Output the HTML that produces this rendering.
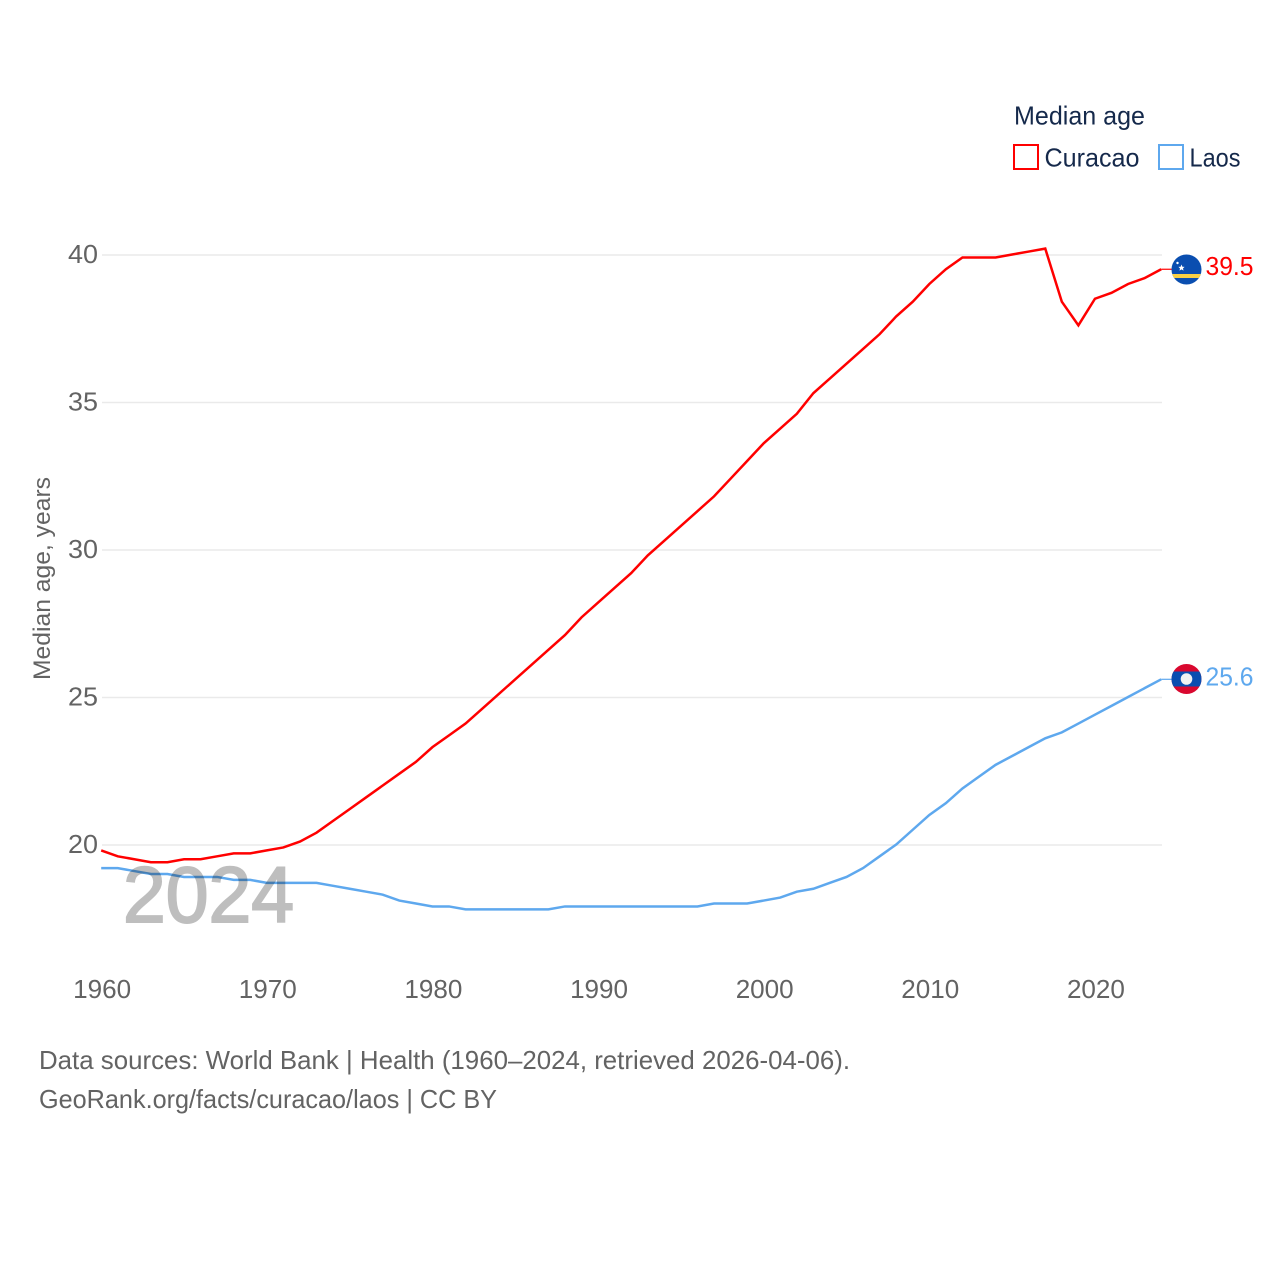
<!DOCTYPE html>
<html lang="en">
<head>
<meta charset="utf-8">
<title>Median age: Curacao and Laos</title>
<style>
html,body{margin:0;padding:0;background:#fff;}
svg{display:block;font-family:"Liberation Sans",sans-serif;}
</style>
</head>
<body>
<svg id="chart" width="1280" height="1280" viewBox="0 0 1280 1280" xmlns="http://www.w3.org/2000/svg">
  <rect x="0" y="0" width="1280" height="1280" fill="#fff"/>
  <g id="grid"></g>
  <g id="yticks"></g>
  <g id="xticks"></g>
  <text transform="translate(50,680) rotate(-90)" font-size="24" fill="#636363" textLength="203" lengthAdjust="spacingAndGlyphs">Median age, years</text>
  <g id="series"></g>
  <text id="year" x="123" y="922" font-size="79" font-weight="normal" fill="#000" stroke="#000" stroke-width="2" opacity="0.25" textLength="171" lengthAdjust="spacingAndGlyphs">2024</text>

  <g>
    <clipPath id="clip-cw"><circle cx="1186.5" cy="269.5" r="15"/></clipPath>
    <g clip-path="url(#clip-cw)">
      <rect x="1171" y="254" width="31" height="31" fill="#0a4eb0"/>
      <rect x="1171" y="274" width="31" height="4" fill="#f9d045"/>
      <polygon points="1181.5,264.5 1182.4,266.7 1184.6,266.9 1183,268.4 1183.5,270.6 1181.5,269.4 1179.5,270.6 1180,268.4 1178.4,266.9 1180.6,266.7" fill="#fff"/>
      <circle cx="1177.5" cy="263" r="1.2" fill="#fff"/>
    </g>
  </g>
  <g>
    <clipPath id="clip-la"><circle cx="1186.5" cy="679" r="15"/></clipPath>
    <g clip-path="url(#clip-la)">
      <rect x="1171" y="664" width="31" height="31" fill="#d9082f"/>
      <rect x="1171" y="671.5" width="31" height="15" fill="#0a4eb0"/>
      <circle cx="1186.5" cy="679" r="5.8" fill="#f2f2f2"/>
    </g>
  </g>
  <text id="val-cw" x="1205.5" y="275" font-size="26" fill="#ff0000" textLength="48" lengthAdjust="spacingAndGlyphs"></text>
  <text id="val-la" x="1205.5" y="685.5" font-size="26" fill="#5ea8ee" textLength="48" lengthAdjust="spacingAndGlyphs"></text>

  <g>
    <text x="1014" y="124.5" font-size="26" fill="#15294b" textLength="131" lengthAdjust="spacingAndGlyphs">Median age</text>
    <g>
      <rect x="1014" y="145" width="24" height="24" fill="none" stroke="#ff0000" stroke-width="2"/>
      <text x="1044.5" y="166.5" font-size="26" fill="#15294b" textLength="95" lengthAdjust="spacingAndGlyphs">Curacao</text>
    </g>
    <g>
      <rect x="1159" y="145" width="24" height="24" fill="none" stroke="#5ea8ee" stroke-width="2"/>
      <text x="1189.5" y="166.5" font-size="26" fill="#15294b" textLength="51" lengthAdjust="spacingAndGlyphs">Laos</text>
    </g>
  </g>

  <text x="39" y="1069" font-size="26" fill="#636363" textLength="811" lengthAdjust="spacingAndGlyphs">Data sources: World Bank | Health (1960–2024, retrieved 2026-04-06).</text>
  <text x="39" y="1108" font-size="26" fill="#636363" textLength="458" lengthAdjust="spacingAndGlyphs">GeoRank.org/facts/curacao/laos | CC BY</text>
</svg>
<script>
const years = [1960,1961,1962,1963,1964,1965,1966,1967,1968,1969,1970,1971,1972,1973,1974,1975,1976,1977,1978,1979,1980,1981,1982,1983,1984,1985,1986,1987,1988,1989,1990,1991,1992,1993,1994,1995,1996,1997,1998,1999,2000,2001,2002,2003,2004,2005,2006,2007,2008,2009,2010,2011,2012,2013,2014,2015,2016,2017,2018,2019,2020,2021,2022,2023,2024];
const curacao = [19.8,19.6,19.5,19.4,19.4,19.5,19.5,19.6,19.7,19.7,19.8,19.9,20.1,20.4,20.8,21.2,21.6,22.0,22.4,22.8,23.3,23.7,24.1,24.6,25.1,25.6,26.1,26.6,27.1,27.7,28.2,28.7,29.2,29.8,30.3,30.8,31.3,31.8,32.4,33.0,33.6,34.1,34.6,35.3,35.8,36.3,36.8,37.3,37.9,38.4,39.0,39.5,39.9,39.9,39.9,40.0,40.1,40.2,38.4,37.6,38.5,38.7,39.0,39.2,39.5];
const laos = [19.2,19.2,19.1,19.0,19.0,18.9,18.9,18.9,18.8,18.8,18.7,18.7,18.7,18.7,18.6,18.5,18.4,18.3,18.1,18.0,17.9,17.9,17.8,17.8,17.8,17.8,17.8,17.8,17.9,17.9,17.9,17.9,17.9,17.9,17.9,17.9,17.9,18.0,18.0,18.0,18.1,18.2,18.4,18.5,18.7,18.9,19.2,19.6,20.0,20.5,21.0,21.4,21.9,22.3,22.7,23.0,23.3,23.6,23.8,24.1,24.4,24.7,25.0,25.3,25.6];
const yTickValues = [20,25,30,35,40];
const xTickValues = [1960,1970,1980,1990,2000,2010,2020];

const NS = 'http://www.w3.org/2000/svg';
const xScale = function (year) { return 101.2 + (year - 1960) * (1161.2 - 101.2) / 64; };
const yScale = function (v) { return 844.5 - (v - 20) * (844.5 - 254.5) / 20; };

const gridGroup = document.getElementById('grid');
const yTickGroup = document.getElementById('yticks');
const xTickGroup = document.getElementById('xticks');
const seriesGroup = document.getElementById('series');

yTickValues.forEach(function (v) {
  const line = document.createElementNS(NS, 'line');
  
  
  line.setAttribute('x1', 102);
  line.setAttribute('x2', 1162);
  line.setAttribute('y1', yScale(v) + 0.5);
  line.setAttribute('y2', yScale(v) + 0.5);
  line.setAttribute('stroke', '#eaeaea');
  line.setAttribute('stroke-width', 1.5);
  gridGroup.appendChild(line);
  const label = document.createElementNS(NS, 'text');
  
  
  label.setAttribute('x', 98);
  label.setAttribute('y', yScale(v) + 8.5);
  label.setAttribute('text-anchor', 'end');
  label.setAttribute('font-size', 26);
  label.setAttribute('fill', '#636363');
  label.setAttribute('textLength', 30);
  label.setAttribute('lengthAdjust', 'spacingAndGlyphs');
  label.textContent = String(v);
  yTickGroup.appendChild(label);
});

xTickValues.forEach(function (yr) {
  const label = document.createElementNS(NS, 'text');
  
  
  label.setAttribute('x', xScale(yr) + 1);
  label.setAttribute('y', 998);
  label.setAttribute('text-anchor', 'middle');
  label.setAttribute('font-size', 26);
  label.setAttribute('fill', '#636363');
  label.setAttribute('textLength', 58);
  label.setAttribute('lengthAdjust', 'spacingAndGlyphs');
  label.textContent = String(yr);
  xTickGroup.appendChild(label);
});

function drawSeries(values, color, name) {
  let d = '';
  values.forEach(function (v, i) {
    d += (i ? 'L' : 'M') + xScale(years[i]).toFixed(2) + ' ' + yScale(v).toFixed(2);
  });
  const path = document.createElementNS(NS, 'path');
  
  
  path.setAttribute('d', d);
  path.setAttribute('fill', 'none');
  path.setAttribute('stroke', color);
  path.setAttribute('stroke-width', 2.5);
  path.setAttribute('stroke-linejoin', 'miter');
  seriesGroup.appendChild(path);
  const last = values[values.length - 1];
  const connector = document.createElementNS(NS, 'line');
  
  
  connector.setAttribute('x1', xScale(years[years.length - 1]));
  connector.setAttribute('x2', xScale(years[years.length - 1]) + 11);
  connector.setAttribute('y1', yScale(last));
  connector.setAttribute('y2', yScale(last));
  connector.setAttribute('stroke', color);
  connector.setAttribute('stroke-width', 1.2);
  seriesGroup.appendChild(connector);
}
drawSeries(curacao, '#ff0000', 'curacao');
drawSeries(laos, '#5ea8ee', 'laos');

document.getElementById('val-cw').textContent = curacao[curacao.length - 1].toFixed(1);
document.getElementById('val-la').textContent = laos[laos.length - 1].toFixed(1);
</script>
</body>
</html>
